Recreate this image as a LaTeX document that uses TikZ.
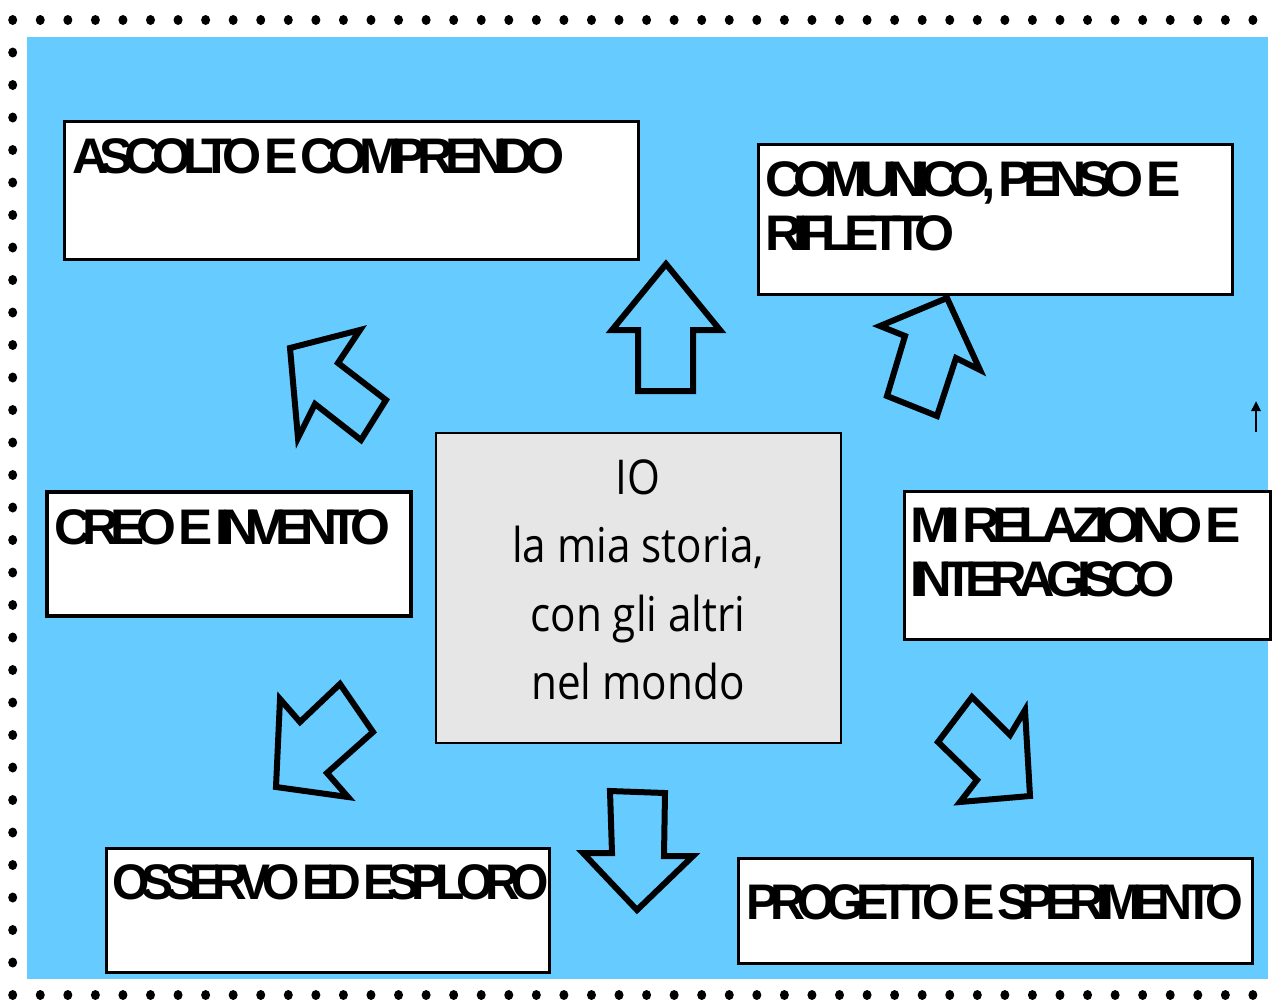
\documentclass[tikz,border=0pt]{standalone}
\usepackage{graphicx}
\usepackage{fontspec}
\setmainfont{Liberation Sans}
\newfontfamily\boxfont{Liberation Sans}[LetterSpace=-17,WordSpace=0.5]
\newfontfamily\ctrfont{Open Sans}[FakeStretch=0.88]
\usetikzlibrary{arrows.meta}
\definecolor{sky}{HTML}{66CCFF}
\definecolor{pale}{HTML}{E6E6E6}
\begin{document}
\begin{tikzpicture}[x=1pt,y=-1pt,
  box/.style={draw=black, fill=white, line width=3pt, anchor=north west, inner sep=0pt},
  lbl/.style={inner sep=0pt, anchor=base west, font=\boxfont\bfseries\fontsize{50}{55}\selectfont},
  bigarrow/.style={draw=black, line width=6pt, line join=miter},
  dot/.style={fill=black}]
\useasboundingbox (0,0) rectangle (1277,999);
\fill[white] (0,0) rectangle (1277,999);
% dotted frame
\foreach \i in {0,...,45} {
  \fill[dot] (12.7+\i*27.56,20) ellipse [x radius=4.5, y radius=5];
  \fill[dot] (12.7+\i*27.56,995) ellipse [x radius=4.5, y radius=5];
}
\foreach \j in {1,...,29}
  \fill[dot] (12.7,20+\j*32.5) ellipse [x radius=4.5, y radius=5];
% background
\fill[sky] (27,37) rectangle (1268,979);
% boxes
\node[box, minimum width=574, minimum height=138] (b1) at (63,120) {};
\node[lbl] (t1) at (72,173) {\scalebox{1.005}[1]{ASCOLTO E COMPRENDO}};
\node[box, minimum width=474, minimum height=150] (b2) at (757,143) {};
\node[lbl] (t2a) at (765,196) {\scalebox{1.03}[1]{COMUNICO, PENSO E}};
\node[lbl] (t2b) at (765,250) {\scalebox{1.03}[1]{RIFLETTO}};
\node[box, line width=4pt, minimum width=364, minimum height=124] (b3) at (45,490) {};
\node[lbl] (t3) at (54,544) {\scalebox{1.025}[1]{CREO E INVENTO}};
\node[box, minimum width=366, minimum height=148] (b4) at (903,490) {};
\node[lbl] (t4a) at (910,542) {\scalebox{1.06}[1]{MI RELAZIONO E}};
\node[lbl] (t4b) at (910,596) {\scalebox{1.01}[1]{INTERAGISCO}};
\node[box, minimum width=443, minimum height=124] (b5) at (105,847) {};
\node[lbl] (t5) at (112,899) {\scalebox{0.96}[1]{OSSERVO ED ESPLORO}};
\node[box, minimum width=514, minimum height=105] (b6) at (737,857) {};
\node[lbl] (t6) at (746,919) {\scalebox{0.97}[1]{PROGETTO E SPERIMENTO}};
% center
\node[draw=black, fill=pale, line width=1.5pt, anchor=north west, minimum width=405, minimum height=310,
  inner sep=0pt] (c) at (435,432) {};
\node[align=center, inner sep=0pt, font=\ctrfont\fontsize{48}{68.5}\selectfont] (ct) at (638,580)
  {IO\\la mia storia,\\con gli altri\\nel mondo};
% big arrows
\draw[bigarrow] (666,264) -- (720,330) -- (693,330) -- (693,391) -- (638,391) -- (638,330) -- (612,330) -- cycle;
\draw[bigarrow] (610,791) -- (665,793) -- (664,856) -- (693,856) -- (637,910) -- (583,853) -- (612,853) -- cycle;
\draw[bigarrow] (290,348) -- (360,330) -- (338,363) -- (386,400) -- (361,440) -- (315,404) -- (298,438) -- cycle;
\draw[bigarrow] (947,298) -- (980,370) -- (956,358) -- (937,416) -- (887,396) -- (905,336) -- (880,326) -- cycle;
\draw[bigarrow] (276,787) -- (280,699) -- (300,722) -- (340,684) -- (373,732) -- (327,773) -- (348,797) -- cycle;
\draw[bigarrow] (972,697) -- (1010,735) -- (1025,710) -- (1030,796) -- (960,802) -- (977,780) -- (938,742) -- cycle;
% small arrow
\coordinate (sa) at (1256,432);
\coordinate (sb) at (1256,401);
\draw[line width=2.5pt, -{Triangle[length=10pt,width=9pt]}] (sa) -- (sb);
\end{tikzpicture}
\end{document}
